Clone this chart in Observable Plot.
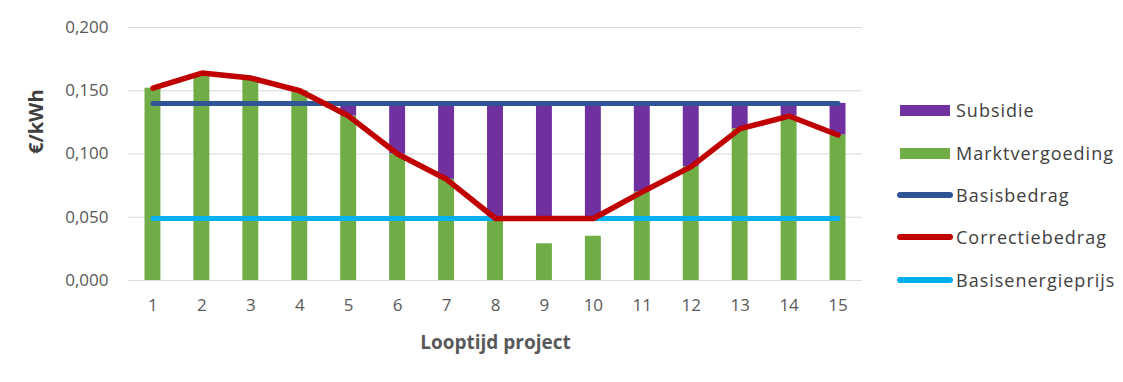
<!DOCTYPE html>
<html><head><meta charset="utf-8">
<script src="https://cdn.jsdelivr.net/npm/d3@7"></script>
<script src="https://cdn.jsdelivr.net/npm/@observablehq/plot@0.6"></script>
<style>
body{margin:0;background:#fff;}
#wrap{position:relative;width:1123px;height:382px;font-family:"Open Sans",sans-serif;}
#legend{position:absolute;left:0;top:0;}
.item{position:absolute;display:flex;align-items:center;white-space:nowrap;font-size:18px;color:#404040;letter-spacing:1px;}
.sw{display:inline-block;margin-right:5px;}
</style></head><body><div id="wrap"><div id="legend"></div></div>
<script>
const years = [1,2,3,4,5,6,7,8,9,10,11,12,13,14,15];
const marktvergoeding = [0.152,0.163,0.160,0.150,0.130,0.100,0.080,0.049,0.029,0.035,0.070,0.090,0.120,0.130,0.115];
const correctiebedrag = [0.152,0.164,0.160,0.150,0.130,0.100,0.080,0.049,0.049,0.049,0.070,0.090,0.120,0.130,0.115];
const subsidie = [0,0,0,0,0.010,0.040,0.060,0.091,0.091,0.091,0.070,0.050,0.020,0.010,0.025];
const basisbedrag = [0.140,0.140,0.140,0.140,0.140,0.140,0.140,0.140,0.140,0.140,0.140,0.140,0.140,0.140,0.140];
const basisenergieprijs = [0.049,0.049,0.049,0.049,0.049,0.049,0.049,0.049,0.049,0.049,0.049,0.049,0.049,0.049,0.049];
const yTicks = [0,0.05,0.1,0.15,0.2];
const legendNames = ["Subsidie","Marktvergoeding","Basisbedrag","Correctiebedrag","Basisenergieprijs"];
const legendColors = ["#7030a0","#70ad47","#2f5597","#c00000","#00b0f0"];
const legendKinds = ["rect","rect","line","line","line"];

const data = years.map((y,i)=>({year:y, markt:marktvergoeding[i], corr:correctiebedrag[i], sub:subsidie[i], basis:basisbedrag[i], energie:basisenergieprijs[i]}));
const fmt = v => d3.format(".3f")(v).replace(".", ",");
const inset = 16.5;

const chart = Plot.plot({
  width:1123, height:382,
  marginLeft:128, marginRight:261, marginTop:27, marginBottom:102,
  style:{fontFamily:'"Open Sans", sans-serif', fontSize:"17px", color:"#595959", background:"#fff"},
  x:{type:"band", domain:years, padding:0, round:false},
  y:{domain:[0,0.2]},
  marks:[
    Plot.ruleY(yTicks, {stroke:"#d9d9d9", strokeWidth:1.2}),
    Plot.barY(data, {x:"year", y1:0, y2:"markt", fill:legendColors[1], insetLeft:inset, insetRight:inset}),
    Plot.barY(data.filter(d=>d.sub>0), {x:"year", y1:"corr", y2:d=>d.corr+d.sub, fill:legendColors[0], insetLeft:inset, insetRight:inset}),
    Plot.line(data, {x:"year", y:"basis", stroke:legendColors[2], strokeWidth:5, strokeLinecap:"round"}),
    Plot.line(data, {x:"year", y:"energie", stroke:legendColors[4], strokeWidth:5, strokeLinecap:"round"}),
    Plot.line(data, {x:"year", y:"corr", stroke:legendColors[3], strokeWidth:5.5, strokeLinejoin:"round"}),
    Plot.axisX({tickSize:0, tickPadding:18, label:null, fontSize:17, letterSpacing:1.5}),
    Plot.axisY({ticks:yTicks, tickSize:0, tickPadding:20, tickFormat:fmt, label:null, fontSize:17, letterSpacing:1.5}),
    Plot.text(["€/kWh"], {frameAnchor:"left", dx:-92, rotate:-90, fontWeight:"bold", fontSize:20, fill:"#404040", letterSpacing:1}),
    Plot.text(["Looptijd project"], {frameAnchor:"bottom", dy:68, fontWeight:"bold", fontSize:19, fill:"#595959", letterSpacing:1})
  ]
});
const wrap = document.getElementById("wrap");
wrap.insertBefore(chart, wrap.firstChild);

const legend = document.getElementById("legend");
const legendTops = [110,153,195,237,280];
legendNames.forEach((name,i)=>{
  const it = document.createElement("div");
  it.className = "item";
  it.style.left = "897px";
  it.style.top = (legendTops[i]-12) + "px";
  it.style.height = "24px";
  const sw = document.createElement("span");
  sw.className = "sw";
  if (legendKinds[i]==="rect") {
    sw.style.cssText = `width:50px;height:11px;background:${legendColors[i]};margin-left:3px;margin-right:6px;`;
  } else {
    sw.style.cssText = `width:56px;height:6px;border-radius:3px;background:${legendColors[i]};margin-right:3px;`;
  }
  it.appendChild(sw);
  const t = document.createElement("span");
  t.textContent = name;
  it.appendChild(t);
  legend.appendChild(it);
});
</script>
</body></html>
